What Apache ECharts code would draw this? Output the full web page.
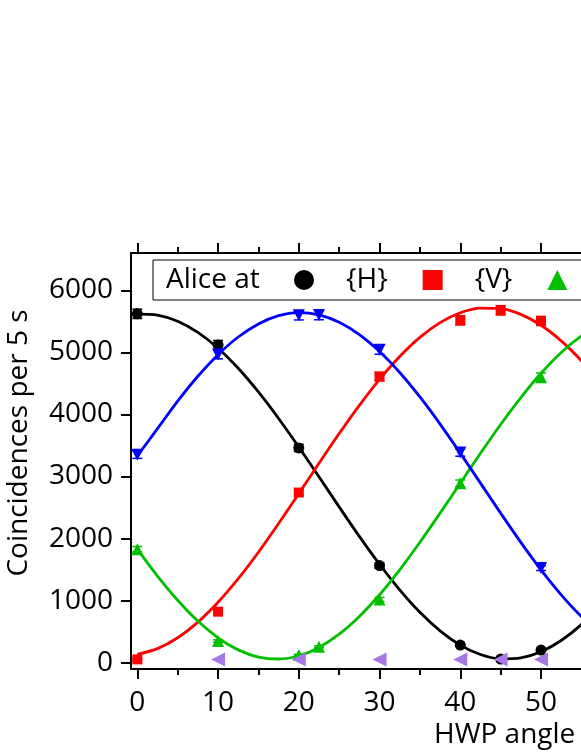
<!DOCTYPE html>
<html>
<head>
<meta charset="utf-8">
<script src="https://cdn.jsdelivr.net/npm/echarts@6/dist/echarts.min.js"></script>
<style>
  html, body { margin: 0; padding: 0; overflow: hidden; background: #fff; }
  #chart { width: 1000px; height: 752px; }
</style>
</head>
<body>
<div id="chart"></div>
<script>
// tick positions
const angleTicks = [0, 10, 20, 30, 40, 50, 60, 70, 80, 90];
const angleMinor = [0, 5, 10, 15, 20, 25, 30, 35, 40, 45, 50, 55, 60, 65, 70, 75, 80, 85, 90];
const countTicks = [0, 1000, 2000, 3000, 4000, 5000, 6000];

// measured points (HWP angle, counts, error)
const hX = [0, 10, 20, 30, 40, 45, 50];
const hY = [5620, 5120, 3460, 1565, 285, 60, 205];
const hErr = [75, 72, 59, 40, 17, 8, 14];

const vX = [0, 10, 20, 30, 40, 45, 50];
const vY = [55, 823, 2742, 4610, 5516, 5677, 5505];
const vErr = [8, 29, 52, 68, 74, 75, 74];

const dX = [0, 10, 20, 22.5, 30, 40, 50];
const dY = [1830, 350, 125, 258, 1020, 2890, 4600];
const dErr = [43, 19, 11, 16, 32, 54, 68];

const aX = [0, 10, 20, 22.5, 30, 40, 50];
const aY = [3350, 4965, 5597, 5600, 5040, 3385, 1525];
const aErr = [58, 70, 75, 75, 71, 58, 39];

const bgX = [10, 20, 30, 40, 45, 50];
const bgY = [55, 55, 55, 55, 55, 55];

// fit curves
const fitX = [0, 2.5, 5, 7.5, 10, 12.5, 15, 17.5, 20, 22.5, 25, 27.5, 30, 32.5,
              35, 37.5, 40, 42.5, 45, 47.5, 50, 52.5, 55, 57.5, 60];
const hFit = [5616, 5600, 5501, 5321, 5066, 4743, 4362, 3935, 3475, 2995, 2511, 2036, 1587, 1175,
              813, 514, 285, 133, 64, 80, 179, 359, 614, 937, 1318];
const vFit = [135, 228, 403, 655, 975, 1354, 1781, 2243, 2725, 3213, 3692, 4147, 4566, 4934,
              5241, 5478, 5637, 5713, 5705, 5612, 5437, 5185, 4865, 4486, 4059];
const dFit = [1831, 1397, 1007, 672, 403, 208, 93, 61, 113, 248, 461, 747, 1096, 1498,
              1941, 2410, 2893, 3374, 3838, 4272, 4663, 4998, 5267, 5462, 5577];
const aFit = [3330, 3771, 4214, 4615, 4963, 5247, 5458, 5591, 5640, 5604, 5485, 5286, 5013, 4675,
              4281, 3844, 3377, 2894, 2410, 1939, 1496, 1095, 747, 463, 252];

const FONT = 'Open Sans';
const FS = 28;

const pair = (xs, ys) => xs.map((x, i) => [x, ys[i]]);
const triple = (xs, ys, es) => xs.map((x, i) => [x, ys[i], es[i]]);

function errorBars(data, color) {
  return {
    type: 'custom',
    silent: true,
    z: 1,
    data: data,
    renderItem: function (params, api) {
      const x = api.value(0), y = api.value(1), e = api.value(2);
      const lo = api.coord([x, y - e]);
      const hi = api.coord([x, y + e]);
      const w = 5;
      const st = { stroke: color, lineWidth: 1.5 };
      return {
        type: 'group',
        children: [
          { type: 'line', shape: { x1: lo[0], y1: lo[1], x2: hi[0], y2: hi[1] }, style: st },
          { type: 'line', shape: { x1: lo[0] - w, y1: lo[1], x2: lo[0] + w, y2: lo[1] }, style: st },
          { type: 'line', shape: { x1: hi[0] - w, y1: hi[1], x2: hi[0] + w, y2: hi[1] }, style: st }
        ]
      };
    }
  };
}

function fitLine(ys, color) {
  return {
    type: 'line',
    data: pair(fitX, ys),
    smooth: 0.3,
    showSymbol: false,
    silent: true,
    z: 2,
    lineStyle: { color: color, width: 2.8 }
  };
}

function points(name, xs, ys, color, symbol, rotate, size) {
  return {
    name: name,
    type: 'scatter',
    data: pair(xs, ys),
    symbol: symbol,
    symbolRotate: rotate,
    symbolSize: size,
    z: 3,
    itemStyle: { color: color, opacity: 1 }
  };
}

const axisBase = {
  type: 'value',
  min: -0.78,
  max: 90,
  splitLine: { show: false },
  axisLine: { show: true, onZero: false, lineStyle: { color: '#000', width: 2 } }
};

const chart = echarts.init(document.getElementById('chart'), null, { renderer: 'canvas' });
chart.setOption({
  animation: false,
  backgroundColor: '#fff',
  textStyle: { fontFamily: FONT },
  grid: { left: 131, top: 253, bottom: 83, width: 733, containLabel: false, outerBoundsMode: 'none' },
  xAxis: [
    Object.assign({}, axisBase, {
      position: 'bottom',
      axisTick: { show: true, length: 10, lineStyle: { color: '#000', width: 2 }, customValues: angleTicks },
      axisLabel: { color: '#000', fontSize: FS, fontFamily: FONT, margin: 20, customValues: angleTicks,
                   formatter: v => String(v) }
    }),
    Object.assign({}, axisBase, {
      position: 'bottom',
      axisTick: { show: true, length: 6, lineStyle: { color: '#000', width: 2 }, customValues: angleMinor },
      axisLabel: { show: false }
    }),
    Object.assign({}, axisBase, {
      position: 'top',
      axisTick: { show: true, length: 10, lineStyle: { color: '#000', width: 2 }, customValues: angleTicks },
      axisLabel: { show: false }
    }),
    Object.assign({}, axisBase, {
      position: 'top',
      axisTick: { show: true, length: 6, lineStyle: { color: '#000', width: 2 }, customValues: angleMinor },
      axisLabel: { show: false }
    })
  ],
  yAxis: {
    type: 'value',
    min: -100,
    max: 6600,
    position: 'left',
    name: 'Coincidences per 5 s',
    nameLocation: 'middle',
    nameGap: 98,
    nameRotate: 90,
    nameTextStyle: { color: '#000', fontSize: FS, fontFamily: FONT, padding: [0, 0, 0, 36] },
    splitLine: { show: false },
    axisLine: { show: true, onZero: false, lineStyle: { color: '#000', width: 2 } },
    axisTick: { show: true, length: 10, lineStyle: { color: '#000', width: 2 }, customValues: countTicks },
    axisLabel: { color: '#000', fontSize: FS, fontFamily: FONT, margin: 18, customValues: countTicks,
                 formatter: v => String(v) }
  },
  legend: {
    left: 153,
    top: 260,
    padding: [6, 14, 6, 141],
    itemWidth: 20,
    itemHeight: 20,
    itemGap: 35,
    borderColor: '#000',
    borderWidth: 1,
    backgroundColor: '#fff',
    selectedMode: false,
    textStyle: { color: '#000', fontSize: FS, fontFamily: FONT, padding: [0, 0, 0, 27] },
    data: ['{H}', '{V}', '{D}', '{A}']
  },
  graphic: [
    { type: 'text', left: 166, top: 266, z: 100,
      style: { text: 'Alice at', fill: '#000', font: FS + 'px "' + FONT + '"' } },
    { type: 'text', left: 434, top: 721, z: 100,
      style: { text: 'HWP angle (degrees)', fill: '#000', font: FS + 'px "' + FONT + '"' } }
  ],
  series: [
    fitLine(hFit, '#000000'),
    fitLine(vFit, '#ff0000'),
    fitLine(dFit, '#00c000'),
    fitLine(aFit, '#0000ff'),
    errorBars(triple(hX, hY, hErr), '#000000'),
    errorBars(triple(vX, vY, vErr), '#ff0000'),
    errorBars(triple(dX, dY, dErr), '#00c000'),
    errorBars(triple(aX, aY, aErr), '#0000ff'),
    points('{H}', hX, hY, '#000000', 'circle', 0, 11),
    points('{V}', vX, vY, '#ff0000', 'rect', 0, 10),
    points('{D}', dX, dY, '#00c000', 'triangle', 0, 12),
    points('{A}', aX, aY, '#0000ff', 'triangle', 180, 12),
    points('background', bgX, bgY, '#a678e6', 'triangle', 90, 14)
  ]
});
</script>
</body>
</html>
